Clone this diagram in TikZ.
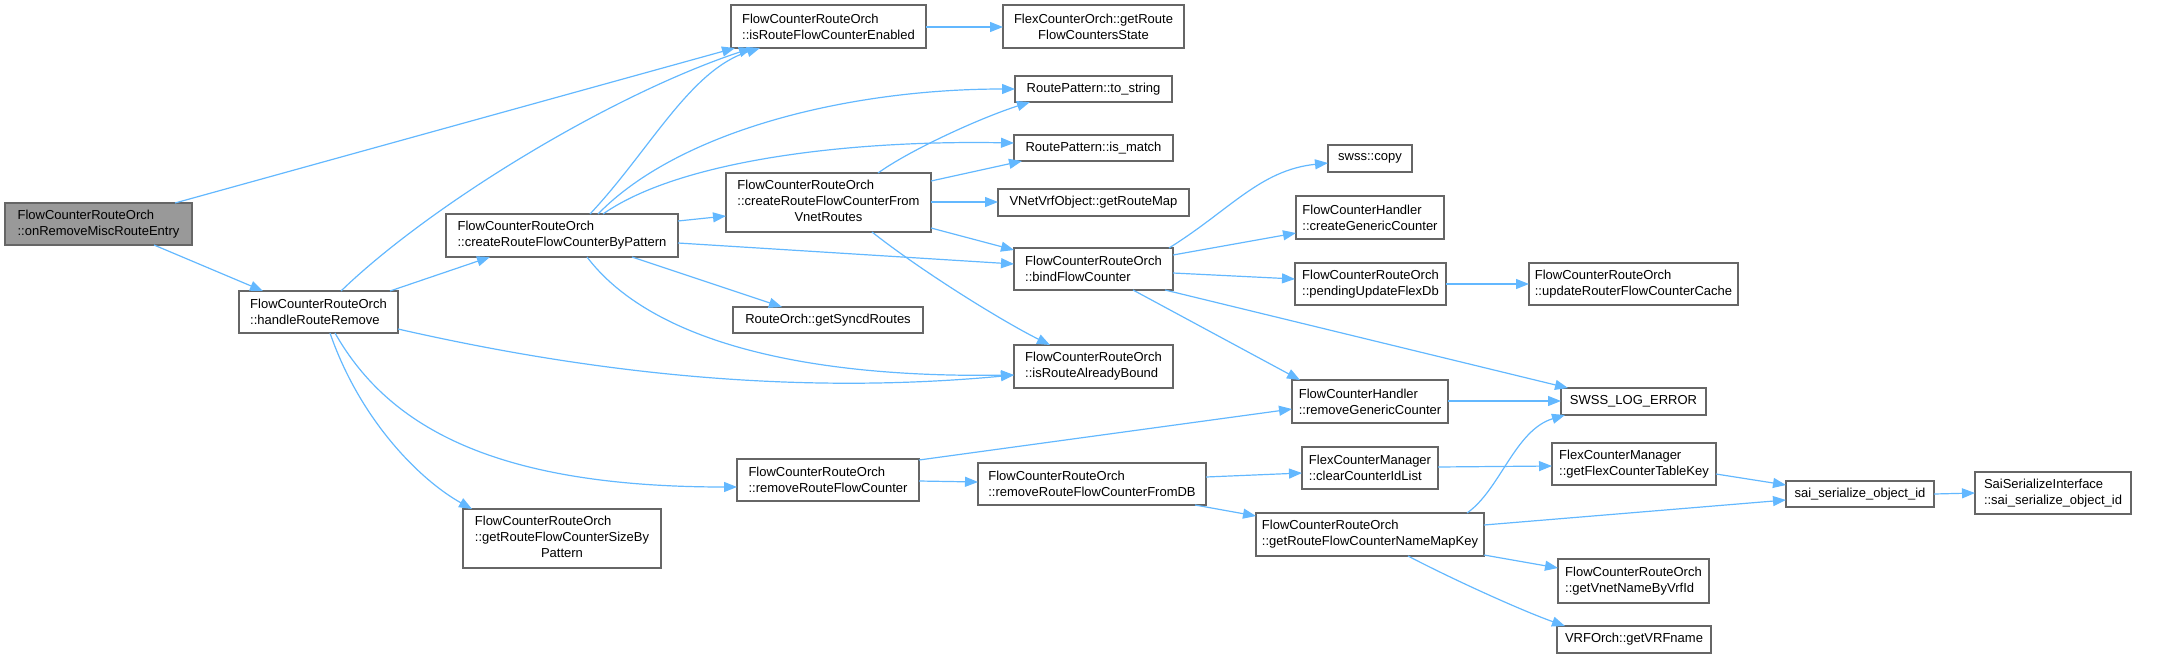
\documentclass[tikz,border=0pt]{standalone}
\usepackage{fontspec}
\setmainfont{Liberation Sans}
\usetikzlibrary{arrows.meta,calc}
\definecolor{edgeblue}{HTML}{63B8FF}
\definecolor{boxgray}{HTML}{666666}
\definecolor{rootgray}{HTML}{999999}
\newcommand\dgfont{\fontsize{6.5}{8}\selectfont}
\tikzset{
  box/.style={draw=boxgray, fill=white, line width=0.6pt, inner sep=0pt, outer sep=0pt, font=\dgfont, text=black},
  edge/.style={draw=edgeblue, line width=0.6pt, -{Triangle[length=6.5pt,width=5pt]}},
}
\begin{document}
\begin{tikzpicture}[x=0.5pt,y=-0.5pt]
\useasboundingbox (0,0) rectangle (2178,659);
% nodes
\node[box, fill=rootgray, align=left, minimum width=93.5pt, minimum height=21pt] (root) at (98.5,224) {FlowCounterRouteOrch\\::onRemoveMiscRouteEntry};
\node[box, align=left, minimum width=79.5pt, minimum height=21pt] (handle) at (318.5,312) {FlowCounterRouteOrch\\::handleRouteRemove};
\node[box, align=left, minimum width=116pt, minimum height=21.5pt] (bypat) at (562,235.5) {FlowCounterRouteOrch\\::createRouteFlowCounterByPattern};
\node[box, minimum width=99pt, minimum height=29.5pt] (sizeby) at (562,538.5) {\begin{tabular}{@{}l@{}}FlowCounterRouteOrch\\::getRouteFlowCounterSizeBy\\\multicolumn{1}{@{}c@{}}{Pattern}\end{tabular}};
\node[box, align=left, minimum width=97.5pt, minimum height=21.5pt] (enabled) at (828.5,26.5) {FlowCounterRouteOrch\\::isRouteFlowCounterEnabled};
\node[box, align=center, minimum width=90.5pt, minimum height=21.5pt] (flexstate) at (1093.5,26.5) {FlexCounterOrch::getRoute\\FlowCountersState};
\node[box, minimum width=78.5pt, minimum height=13pt] (tostr) at (1093.5,89) {RoutePattern::to\_string};
\node[box, minimum width=79.5pt, minimum height=13pt] (ismatch) at (1093.5,148) {RoutePattern::is\_match};
\node[box, minimum width=102.5pt, minimum height=29.5pt] (vnet) at (828.5,202.5) {\begin{tabular}{@{}l@{}}FlowCounterRouteOrch\\::createRouteFlowCounterFrom\\\multicolumn{1}{@{}c@{}}{VnetRoutes}\end{tabular}};
\node[box, minimum width=95.5pt, minimum height=13.5pt] (routemap) at (1093.5,202.5) {VNetVrfObject::getRouteMap};
\node[box, align=left, minimum width=79.5pt, minimum height=21pt] (bind) at (1093.5,269) {FlowCounterRouteOrch\\::bindFlowCounter};
\node[box, minimum width=95pt, minimum height=13pt] (syncd) at (828,320) {RouteOrch::getSyncdRoutes};
\node[box, align=left, minimum width=79.5pt, minimum height=21.5pt] (bound) at (1093.5,366.5) {FlowCounterRouteOrch\\::isRouteAlreadyBound};
\node[box, align=left, minimum width=91pt, minimum height=21pt] (rmfc) at (828,480) {FlowCounterRouteOrch\\::removeRouteFlowCounter};
\node[box, align=left, minimum width=114pt, minimum height=21pt] (fromdb) at (1092,484) {FlowCounterRouteOrch\\::removeRouteFlowCounterFromDB};
\node[box, minimum width=42pt, minimum height=13.5pt] (copy) at (1370,158.5) {swss::copy};
\node[box, align=left, minimum width=74pt, minimum height=21.5pt] (creategc) at (1370,217.5) {FlowCounterHandler\\::createGenericCounter};
\node[box, align=left, minimum width=75.5pt, minimum height=21pt] (pending) at (1370.5,284) {FlowCounterRouteOrch\\::pendingUpdateFlexDb};
\node[box, align=left, minimum width=104.5pt, minimum height=21pt] (update) at (1633.5,284) {FlowCounterRouteOrch\\::updateRouterFlowCounterCache};
\node[box, align=left, minimum width=78pt, minimum height=21.5pt] (rmgc) at (1370,401.5) {FlowCounterHandler\\::removeGenericCounter};
\node[box, minimum width=72.5pt, minimum height=13.5pt] (logerr) at (1633.5,401.5) {SWSS\_LOG\_ERROR};
\node[box, align=left, minimum width=68pt, minimum height=21pt] (clearids) at (1370,468) {FlexCounterManager\\::clearCounterIdList};
\node[box, align=left, minimum width=82pt, minimum height=21pt] (tablekey) at (1634,464) {FlexCounterManager\\::getFlexCounterTableKey};
\node[box, align=left, minimum width=114pt, minimum height=21.5pt] (namemap) at (1370,534.5) {FlowCounterRouteOrch\\::getRouteFlowCounterNameMapKey};
\node[box, align=left, minimum width=75.5pt, minimum height=22pt] (vrfid) at (1633.5,581) {FlowCounterRouteOrch\\::getVnetNameByVrfId};
\node[box, minimum width=77pt, minimum height=13.5pt] (vrfname) at (1634,639.5) {VRFOrch::getVRFname};
\node[box, minimum width=74pt, minimum height=13pt] (sai) at (1860,494) {sai\_serialize\_object\_id};
\node[box, align=left, minimum width=78pt, minimum height=21pt] (saiif) at (2053,493) {SaiSerializeInterface\\::sai\_serialize\_object\_id};
% edges
\draw[edge] ($(root.north west)+(170,0)$) -- ($(enabled.north west)+(4,43)$);
\draw[edge] ($(root.north west)+(149,42)$) -- ($(handle.north west)+(24,0)$);
\draw[edge] ($(handle.north west)+(102,0)$) .. controls (430,205) and (610,95) .. ($(enabled.north west)+(21,43)$);
\draw[edge] ($(handle.north west)+(151,0)$) -- ($(bypat.north west)+(44,43)$);
\draw[edge] ($(bypat.north west)+(144,0)$) .. controls (650,150) and (690,70) .. ($(enabled.north west)+(29,43)$);
\draw[edge] ($(bypat.north west)+(152,0)$) .. controls (680,130) and (850,89) .. ($(tostr.north west)+(0,13)$);
\draw[edge] ($(bypat.north west)+(157,0)$) .. controls (680,160) and (850,140) .. ($(ismatch.north west)+(0,8)$);
\draw[edge] ($(bypat.north west)+(232,7)$) -- ($(vnet.north west)+(0,43)$);
\draw[edge] ($(bypat.north west)+(232,29)$) -- ($(bind.north west)+(0,16)$);
\draw[edge] ($(bypat.north west)+(186,43)$) -- ($(syncd.north west)+(49,0)$);
\draw[edge] ($(bypat.north west)+(141,43)$) .. controls (650,340) and (800,378) .. ($(bound.north west)+(0,30)$);
\draw[edge] ($(handle.north west)+(159,38)$) .. controls (600,375) and (800,395) .. ($(bound.north west)+(0,30)$);
\draw[edge] ($(handle.north west)+(96,42)$) .. controls (390,430) and (500,487) .. ($(rmfc.north west)+(0,28)$);
\draw[edge] ($(handle.north west)+(91,42)$) .. controls (360,420) and (420,480) .. ($(sizeby.north west)+(9,0)$);
\draw[edge] ($(rmfc.north west)+(182,1)$) -- ($(rmgc.north west)+(0,29)$);
\draw[edge] ($(rmfc.north west)+(182,22)$) -- ($(fromdb.north west)+(0,19)$);
\draw[edge] ($(vnet.north west)+(152,0)$) .. controls (910,150) and (980,118) .. ($(tostr.north west)+(15,26)$);
\draw[edge] ($(vnet.north west)+(205,8)$) -- ($(ismatch.north west)+(8,26)$);
\draw[edge] ($(vnet.north west)+(205,29)$) -- ($(routemap.north west)+(0,13)$);
\draw[edge] ($(vnet.north west)+(205,55)$) -- ($(bind.north west)+(0,2)$);
\draw[edge] ($(vnet.north west)+(146,59)$) .. controls (920,270) and (1000,320) .. ($(bound.north west)+(36,0)$);
\draw[edge] ($(enabled.north west)+(195,22)$) -- ($(flexstate.north west)+(0,22)$);
\draw[edge] ($(bind.north west)+(155,0)$) .. controls (1230,210) and (1260,170) .. ($(copy.north west)+(0,18)$);
\draw[edge] ($(bind.north west)+(159,7)$) -- ($(creategc.north west)+(0,37)$);
\draw[edge] ($(bind.north west)+(159,25)$) -- ($(pending.north west)+(0,16)$);
\draw[edge] ($(bind.north west)+(151,42)$) -- ($(logerr.north west)+(7,0)$);
\draw[edge] ($(bind.north west)+(119,42)$) -- ($(rmgc.north west)+(8,0)$);
\draw[edge] ($(pending.north west)+(151,21)$) -- ($(update.north west)+(0,21)$);
\draw[edge] ($(rmgc.north west)+(156,21)$) -- ($(logerr.north west)+(0,13)$);
\draw[edge] ($(clearids.north west)+(136,20)$) -- ($(tablekey.north west)+(0,23)$);
\draw[edge] ($(fromdb.north west)+(228,14)$) -- ($(clearids.north west)+(0,26)$);
\draw[edge] ($(fromdb.north west)+(217,42)$) -- ($(namemap.north west)+(0,3)$);
\draw[edge] ($(namemap.north west)+(211,0)$) .. controls (1500,490) and (1515,430) .. ($(logerr.north west)+(4,27)$);
\draw[edge] ($(tablekey.north west)+(164,31)$) -- ($(sai.north west)+(0,4)$);
\draw[edge] ($(namemap.north west)+(228,12)$) -- ($(sai.north west)+(0,19)$);
\draw[edge] ($(namemap.north west)+(228,42)$) -- ($(vrfid.north west)+(0,9)$);
\draw[edge] ($(namemap.north west)+(152,43)$) .. controls (1450,578) and (1520,610) .. ($(vrfname.north west)+(8,0)$);
\draw[edge] ($(sai.north west)+(148,13)$) -- ($(saiif.north west)+(0,21)$);
\end{tikzpicture}
\end{document}
